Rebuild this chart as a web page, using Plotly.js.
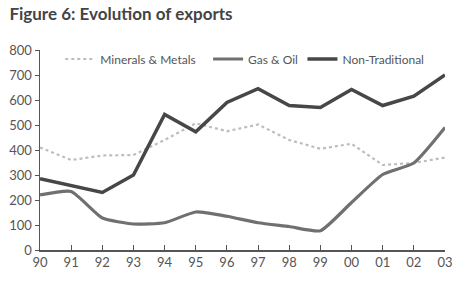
<!DOCTYPE html>
<html><head><meta charset="utf-8">
<script src="https://cdn.plot.ly/plotly-3.0.1.min.js"></script>
<style>html,body{margin:0;padding:0;background:#fff}#chart{width:469px;height:288px}</style>
</head><body><div id="chart"></div>
<script>
const years = ['90','91','92','93','94','95','96','97','98','99','00','01','02','03'];
const minerals = [410, 360, 378, 380, 440, 507, 475, 502, 440, 405, 425, 340, 348, 370];
const gasOil = [220, 234, 128, 104, 109, 152, 135, 109, 94, 77, 190, 302, 348, 490];
const nonTrad = [285, 257, 230, 300, 542, 473, 590, 645, 578, 570, 642, 578, 615, 700];

const font = 'Lato, "DejaVu Sans", sans-serif';
const traces = [
  {x: years, y: minerals, name: 'Minerals & Metals', type: 'scatter', mode: 'lines',
   line: {color: '#bdbdbd', width: 2.2, dash: 'dot'}, legend: 'legend'},
  {x: years, y: gasOil, name: 'Gas & Oil', type: 'scatter', mode: 'lines',
   line: {color: '#707070', width: 3.2, shape: 'spline', smoothing: 0.5}, legend: 'legend2'},
  {x: years, y: nonTrad, name: 'Non-Traditional', type: 'scatter', mode: 'lines',
   line: {color: '#474747', width: 3.5}, legend: 'legend3'}
];
const legBase = {orientation: 'h', yanchor: 'middle', y: 0.955, xanchor: 'left',
  bgcolor: 'rgba(0,0,0,0)', font: {family: font, size: 12, color: '#555'}, itemwidth: 30};
const layout = {
  width: 469, height: 288,
  margin: {l: 40, r: 24, t: 50, b: 38},
  paper_bgcolor: '#fff', plot_bgcolor: '#fff',
  font: {family: font, color: '#555', size: 13},
  title: {text: '<b>Figure 6: Evolution of exports</b>', x: 0.02, xanchor: 'left', y: 0.95, yanchor: 'middle',
    font: {family: font, size: 17, color: '#444'}},
  xaxis: {type: 'category', range: [0, 13], showgrid: false, zeroline: false,
    showline: true, linecolor: '#555', linewidth: 1.5, ticks: 'inside', ticklen: 5, tickcolor: '#555',
    tickfont: {family: font, size: 13, color: '#555'}},
  yaxis: {range: [0, 800], dtick: 100, showgrid: false, zeroline: false,
    showline: true, linecolor: '#555', linewidth: 1.5, ticks: 'outside', ticklen: 4, tickcolor: '#555',
    tickfont: {family: font, size: 13, color: '#555'}},
  showlegend: true,
  legend: Object.assign({}, legBase, {x: 0.05}),
  legend2: Object.assign({}, legBase, {x: 0.415}),
  legend3: Object.assign({}, legBase, {x: 0.648})
};
Plotly.newPlot('chart', traces, layout, {displayModeBar: false, staticPlot: true});
</script></body></html>
